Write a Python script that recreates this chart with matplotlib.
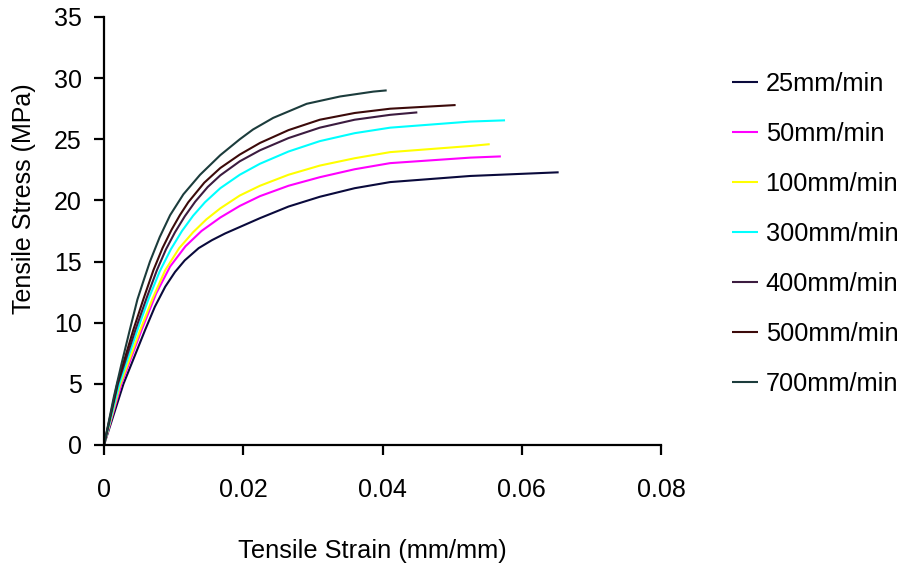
import matplotlib
matplotlib.use("Agg")
import matplotlib.pyplot as plt

plt.rcParams["font.family"] = ["Liberation Sans", "DejaVu Sans"]

# Tensile stress-strain curves at different crosshead speeds
labels = ["25mm/min", "50mm/min", "100mm/min", "300mm/min",
          "400mm/min", "500mm/min", "700mm/min"]
colors = ["#0a0a3c", "#ff00ff", "#ffff00", "#00ffff",
          "#3c1c40", "#3c0a0a", "#1c3c3c"]

strain_25 = [0, 0.0028, 0.0059, 0.0073, 0.0088, 0.0102, 0.0116, 0.0136, 0.0155,
             0.0174, 0.0188, 0.0224, 0.0265, 0.031, 0.036, 0.0411, 0.0526, 0.0653]
stress_25 = [0, 5.0, 9.4, 11.3, 12.95, 14.15, 15.1, 16.1, 16.75,
             17.3, 17.65, 18.55, 19.5, 20.3, 21.0, 21.5, 22.0, 22.3]

strain_50 = [0, 0.0025, 0.0054, 0.0075, 0.0095, 0.0117, 0.0140, 0.0167, 0.0195,
             0.0224, 0.0265, 0.031, 0.036, 0.0411, 0.0526, 0.057]
stress_50 = [0, 5.0, 9.4, 12.4, 14.6, 16.25, 17.5, 18.6, 19.55,
             20.35, 21.2, 21.9, 22.55, 23.05, 23.5, 23.6]

strain_100 = [0, 0.0023, 0.0052, 0.0070, 0.0088, 0.0108, 0.0128, 0.0147, 0.0167,
              0.0195, 0.0224, 0.0265, 0.031, 0.036, 0.0411, 0.0526, 0.0554]
stress_100 = [0, 4.9, 9.4, 12.0, 14.3, 16.1, 17.4, 18.45, 19.35,
              20.4, 21.2, 22.1, 22.85, 23.45, 23.95, 24.45, 24.6]

strain_300 = [0, 0.0022, 0.0048, 0.0064, 0.0080, 0.0096, 0.0112, 0.0128, 0.0145,
              0.0167, 0.0195, 0.0224, 0.0265, 0.031, 0.036, 0.0411, 0.0526, 0.0576]
stress_300 = [0, 5.0, 9.4, 11.95, 14.2, 16.0, 17.5, 18.75, 19.85,
              21.0, 22.1, 23.0, 24.0, 24.85, 25.5, 25.95, 26.45, 26.55]

strain_400 = [0, 0.0020, 0.0045, 0.0061, 0.0076, 0.0089, 0.0102, 0.0116, 0.0131,
              0.0149, 0.0167, 0.0195, 0.0224, 0.0265, 0.031, 0.036, 0.0411, 0.045]
stress_400 = [0, 5.0, 9.4, 12.0, 14.3, 16.0, 17.4, 18.7, 19.9,
              21.1, 22.05, 23.2, 24.1, 25.1, 25.95, 26.6, 27.0, 27.2]

strain_500 = [0, 0.0019, 0.0042, 0.0057, 0.0071, 0.0084, 0.0097, 0.0109, 0.0121,
              0.0144, 0.0167, 0.0195, 0.0224, 0.0265, 0.031, 0.036, 0.0411, 0.0505]
stress_500 = [0, 5.0, 9.4, 12.0, 14.3, 16.1, 17.6, 18.8, 19.85,
              21.45, 22.65, 23.75, 24.7, 25.75, 26.6, 27.15, 27.5, 27.8]

strain_700 = [0, 0.0014, 0.0025, 0.0037, 0.0048, 0.0056, 0.0066, 0.0080, 0.0095,
              0.0114, 0.0138, 0.0167, 0.0195, 0.0214, 0.0243, 0.0291, 0.0339,
              0.0387, 0.0406]
stress_700 = [0, 3.9, 6.6, 9.4, 11.9, 13.3, 15.0, 17.0, 18.8,
              20.5, 22.1, 23.7, 25.0, 25.8, 26.75, 27.9, 28.5,
              28.9, 29.0]

strains = [strain_25, strain_50, strain_100, strain_300, strain_400, strain_500, strain_700]
stresses = [stress_25, stress_50, stress_100, stress_300, stress_400, stress_500, stress_700]

x_ticks = [0, 0.02, 0.04, 0.06, 0.08]
x_ticklabels = ["0", "0.02", "0.04", "0.06", "0.08"]
y_ticks = [0, 5, 10, 15, 20, 25, 30, 35]

W, H = 901, 571
fig = plt.figure(figsize=(W / 100, H / 100), dpi=100)
ax = fig.add_axes([104 / W, 126 / H, 557 / W, 428 / H])

handles = []
for xs, ys, c, lab in zip(strains, stresses, colors, labels):
    h, = ax.plot(xs, ys, color=c, lw=1.5, label=lab,
                 solid_joinstyle="round", solid_capstyle="butt")
    handles.append(h)

ax.set_xlim(0, 0.08)
ax.set_ylim(0, 35)
ax.set_xticks(x_ticks)
ax.set_xticklabels(x_ticklabels)
ax.set_yticks(y_ticks)
for side in ("top", "right"):
    ax.spines[side].set_visible(False)
for side in ("left", "bottom"):
    ax.spines[side].set_linewidth(1.6)
ax.tick_params(direction="out", length=7, width=1.6, labelsize=18)
ax.tick_params(axis="y", pad=9)
ax.tick_params(axis="x", pad=17)

ax.set_xlabel("Tensile Strain (mm/mm)", fontsize=18.3)
ax.set_ylabel("Tensile Stress (MPa)", fontsize=18)
ax.xaxis.label.set_verticalalignment("center")
ax.yaxis.label.set_verticalalignment("center")
ax.xaxis.set_label_coords((372.5 - 104) / 557, (445 - 551) / 428)
ax.yaxis.set_label_coords((24 - 104) / 557, (445 - 198.5) / 428)

fig.legend(handles=handles, labels=labels, loc="upper left",
           bbox_to_anchor=(732 / W, 1 - 72 / H), frameon=False,
           fontsize=18.3, handlelength=1.04, handletextpad=0.28,
           labelspacing=1.02, borderaxespad=0, borderpad=0)

fig.savefig("out.png", dpi=100)
